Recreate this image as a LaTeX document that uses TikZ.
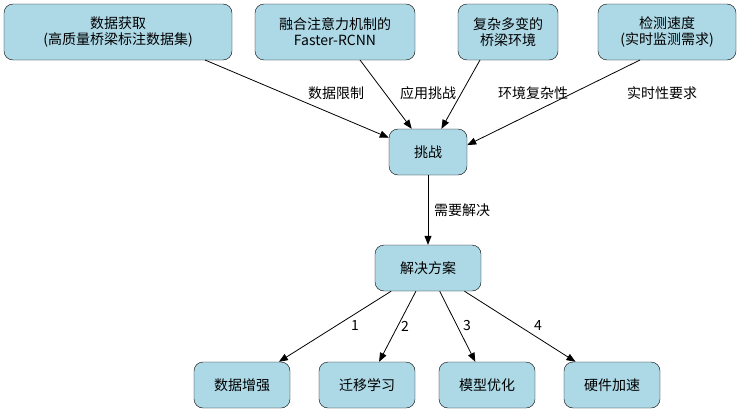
\documentclass[tikz,border=0pt]{standalone}
\usepackage{fontspec}
\setmainfont{Noto Sans CJK SC}
\usetikzlibrary{arrows.meta}
\begin{document}
\begin{tikzpicture}[x=1pt,y=-1pt,
  box/.style={draw=black,fill=lightblue,rounded corners=9pt,align=center,inner sep=0pt,font=\fontsize{14}{16}\selectfont},
  lab/.style={font=\fontsize{14}{16}\selectfont},
  arr/.style={-{Triangle[length=9pt,width=7pt]},line width=0.8pt}]
\definecolor{lightblue}{HTML}{ADD8E6}
\useasboundingbox (0,0) rectangle (749,415);
\node[box,minimum width=228pt,minimum height=56pt] (t1) at (118,32) {数据获取\\(高质量桥梁标注数据集)};
\node[box,minimum width=160pt,minimum height=56pt] (t2) at (335,32) {融合注意力机制的\\Faster-RCNN};
\node[box,minimum width=100pt,minimum height=56pt] (t3) at (508,32) {复杂多变的\\桥梁环境};
\node[box,minimum width=138pt,minimum height=56pt] (t4) at (667,32) {检测速度\\(实时监测需求)};
\node[box,minimum width=78pt,minimum height=46pt] (c) at (428,152) {挑战};
\node[box,minimum width=106pt,minimum height=46pt] (s) at (428,268) {解决方案};
\node[box,minimum width=96pt,minimum height=46pt] (b1) at (242,385) {数据增强};
\node[box,minimum width=96pt,minimum height=46pt] (b2) at (367,385) {迁移学习};
\node[box,minimum width=96pt,minimum height=46pt] (b3) at (487,385) {模型优化};
\node[box,minimum width=96pt,minimum height=46pt] (b4) at (612,385) {硬件加速};
\coordinate (a1) at (205,60); \coordinate (a2) at (360,60);
\coordinate (a3) at (480,60); \coordinate (a4) at (640,60);
\draw[arr] (a1) -- (c.160);
\draw[arr] (a2) -- (c.125);
\draw[arr] (a3) -- (c.60);
\draw[arr] (a4) -- (c.10);
\draw[arr] (c) -- (s);
\draw[arr] (s) -- (b1);
\draw[arr] (s) -- (b2);
\draw[arr] (s) -- (b3);
\draw[arr] (s) -- (b4);
\node[lab] (l1) at (336,93) {数据限制};
\node[lab] (l2) at (428,93) {应用挑战};
\node[lab] (l3) at (533,93) {环境复杂性};
\node[lab] (l4) at (662,93) {实时性要求};
\node[lab] (l5) at (462,210) {需要解决};
\node[lab] (n1) at (355,326) {1};
\node[lab] (n2) at (405,326) {2};
\node[lab] (n3) at (467,326) {3};
\node[lab] (n4) at (538,326) {4};
\end{tikzpicture}
\end{document}
